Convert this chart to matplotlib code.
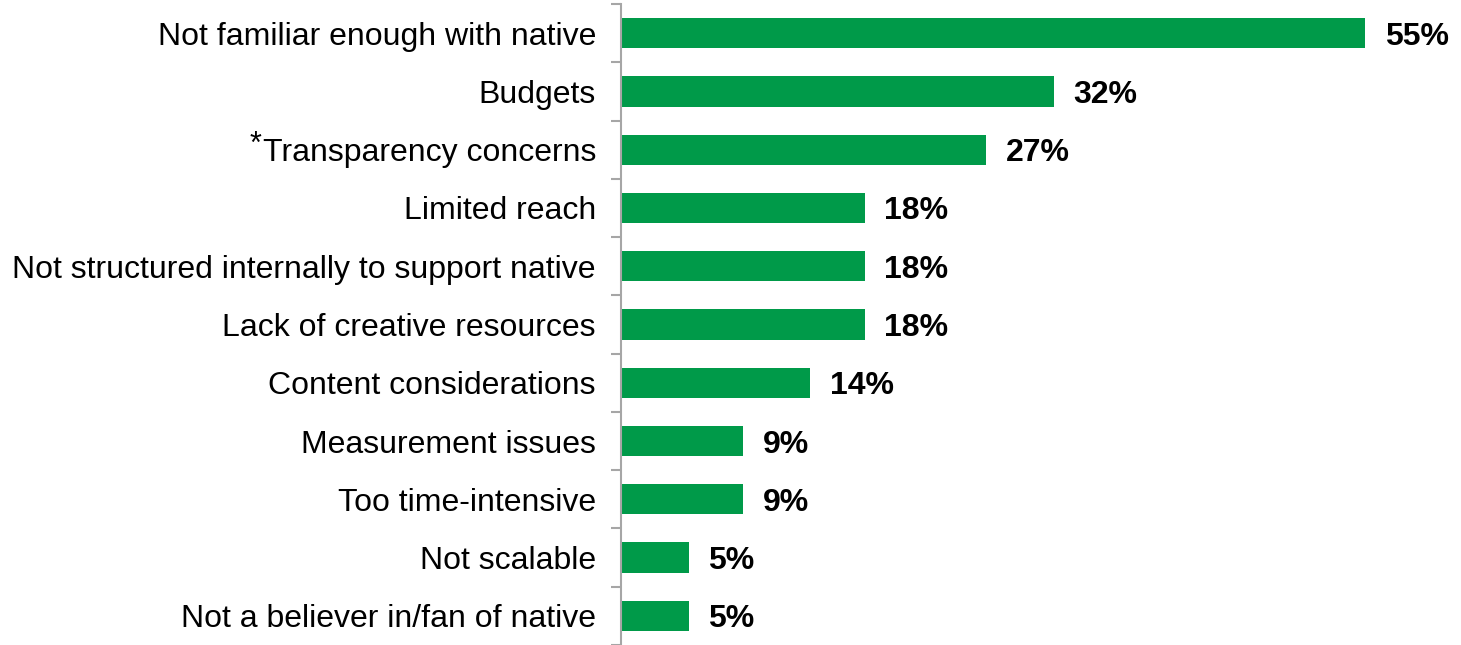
import matplotlib
matplotlib.use("Agg")
import matplotlib.pyplot as plt

categories = [
    "Not familiar enough with native",
    "Budgets",
    "Transparency concerns",
    "Limited reach",
    "Not structured internally to support native",
    "Lack of creative resources",
    "Content considerations",
    "Measurement issues",
    "Too time-intensive",
    "Not scalable",
    "Not a believer in/fan of native",
]
values = [55, 32, 27, 18, 18, 18, 14, 9, 9, 5, 5]
value_labels = ["55%", "32%", "27%", "18%", "18%", "18%", "14%", "9%", "9%", "5%", "5%"]
starred = "Transparency concerns"

plt.rcParams['font.family'] = ['Liberation Sans', 'DejaVu Sans']

fig = plt.figure(figsize=(14.61, 6.45), dpi=100)
ax = fig.add_axes([621 / 1461, 0.0, 1 - 621 / 1461, 1 - 4 / 645])

pos = list(range(len(categories)))
ax.barh(pos, values, height=0.52, color="#009a49")
ax.set_ylim(len(categories) - 0.5, -0.5)
ax.set_xlim(0, 840 / 13.53)

for y, v, lab in zip(pos, values, value_labels):
    ax.text(v + 1.45, y, lab, va="center_baseline", ha="left", fontsize=23, fontweight="bold")

ax.set_yticks(pos)
ax.set_yticklabels(categories, fontsize=23, va="center_baseline")
ax.tick_params(axis="y", which="major", length=0, pad=18)
ax.set_yticks([p - 0.5 for p in pos] + [len(pos) - 0.5], minor=True)
ax.tick_params(axis="y", which="minor", length=7, width=1.5, color="#a6a6a6")
ax.set_xticks([])

for s in ["top", "right", "bottom"]:
    ax.spines[s].set_visible(False)
ax.spines["left"].set_color("#a6a6a6")
ax.spines["left"].set_linewidth(1.5)

for lbl in ax.get_yticklabels():
    if lbl.get_text() == starred:
        ax.annotate("*", xy=(0, 1), xycoords=lbl, ha="right", va="top",
                    fontsize=22, xytext=(-1, 6), textcoords="offset points")

fig.savefig("out.png", dpi=100)
